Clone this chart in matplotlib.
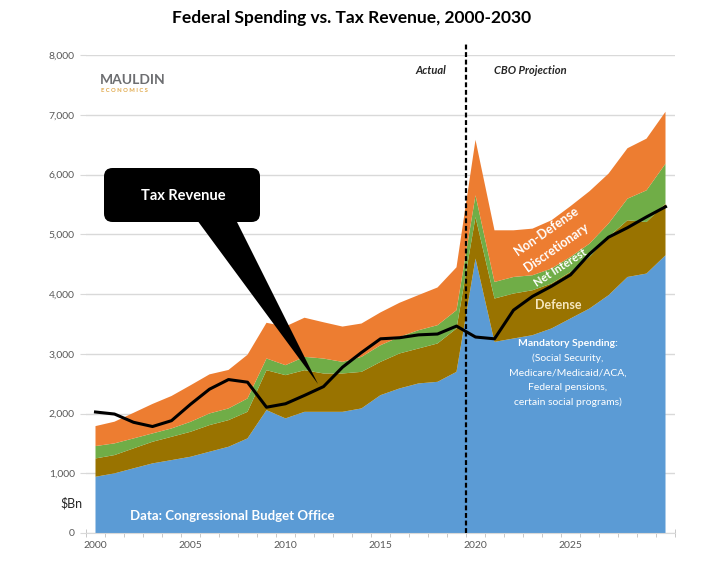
import matplotlib.pyplot as plt
from matplotlib.patches import FancyBboxPatch, Polygon

plt.rcParams['font.family'] = ['Lato', 'DejaVu Sans']

# data, $bn
years = list(range(2000, 2031))
mandatory = [941, 998, 1082, 1165, 1220, 1276, 1360, 1443, 1583, 2057,
             1918, 2028, 2028, 2028, 2085, 2307, 2419, 2503, 2530, 2697,
             4593, 3199, 3255, 3311, 3423, 3590, 3757, 3979, 4285, 4342, 4648]
defense = [307, 306, 334, 362, 390, 418, 446, 446, 445, 668,
           724, 697, 642, 642, 612, 557, 586, 585, 642, 726,
           695, 725, 753, 752, 752, 779, 863, 976, 949, 863, 864]
net_interest = [207, 196, 167, 140, 140, 167, 195, 196, 224, 196,
                167, 223, 250, 194, 251, 279, 277, 306, 306, 306,
                364, 278, 277, 251, 251, 251, 223, 223, 362, 530, 669]
non_defense = [334, 363, 428, 493, 543, 611, 654, 644, 731, 597,
               648, 655, 607, 591, 558, 549, 571, 588, 631, 718,
               928, 864, 781, 780, 808, 850, 877, 836, 844, 865, 869]
tax_revenue = [2025, 1991, 1853, 1782, 1880, 2154, 2407, 2568, 2524, 2105,
               2163, 2303, 2450, 2775, 3021, 3250, 3268, 3316, 3330, 3463,
               3280, 3250, 3730, 3960, 4130, 4320, 4670, 4950, 5110, 5290, 5460]
split_year = 2019.5

W, H = 705, 578
fig = plt.figure(figsize=(W / 100, H / 100), dpi=100)
ax = fig.add_axes([86 / W, 1 - 533 / H, (675 - 86) / W, (533 - 55) / H])


def fx(x, y):
    # pixel position -> figure fraction
    return x / W, 1 - y / H


def dx(x, y):
    # pixel position -> data coords
    return 1999.5 + (x - 86) / 19.0, (533 - y) / 478.0 * 8000


ax.stackplot(years, mandatory, defense, net_interest, non_defense,
             colors=['#5B9BD5', '#997300', '#70AD47', '#ED7D31'], lw=0, zorder=2)
ax.plot(years, tax_revenue, color='black', lw=2.2, zorder=3)
ax.plot([split_year, split_year], [0, 8200], color='black', lw=1.6,
        ls=(0, (2.2, 1.2)), zorder=4, clip_on=False)

ax.set_xlim(1999.5, 2030.5)
ax.set_ylim(0, 8000)
ax.set_xticks(range(2000, 2030, 5))
ax.set_xticks([y + 0.5 for y in range(1999, 2031)], minor=True)
ax.set_yticks(range(0, 9000, 1000))
ax.set_yticklabels([f'{v:,}' for v in range(0, 9000, 1000)])
ax.tick_params(axis='x', which='major', length=0, pad=6, labelsize=7.5, labelcolor='#595959')
ax.tick_params(axis='x', which='minor', length=6, direction='inout', color='#BFBFBF')
ax.tick_params(axis='y', length=4, color='#D9D9D9', pad=4, labelsize=7.5, labelcolor='#595959')
ax.yaxis.grid(True, color='#D9D9D9', lw=1)
ax.set_axisbelow(True)
for s in ['top', 'right', 'left']:
    ax.spines[s].set_visible(False)
ax.spines['bottom'].set_color('#D9D9D9')

# title and logo
fig.text(*fx(352, 18), 'Federal Spending vs. Tax Revenue, 2000-2030',
         ha='center', va='center', fontsize=12.5, fontweight='bold')
fig.text(*fx(100, 80), 'MAULDIN', ha='left', va='center', fontsize=10,
         color='#6D6E71', fontweight='bold')
fig.text(*fx(101, 91), 'E C O N O M I C S', ha='left', va='center', fontsize=4.2,
         color='#E0A84A', fontweight='bold')
fig.text(*fx(431, 71), 'Actual', ha='center', va='center', fontsize=8,
         style='italic', fontweight='bold', color='#262626')
fig.text(*fx(530, 71), 'CBO Projection', ha='center', va='center', fontsize=8,
         style='italic', fontweight='bold', color='#262626')
fig.text(*fx(71, 503), '$Bn', ha='center', va='center', fontsize=9, color='#262626')

# tax revenue callout
x0, y0 = dx(104, 222)
x1, y1 = dx(260, 168)
box = FancyBboxPatch((x0, y0), x1 - x0, y1 - y0,
                     boxstyle='round,pad=0,rounding_size=0.45',
                     mutation_aspect=8000 / 478 * 19, fc='black', ec='none', zorder=6)
ax.add_patch(box)
wedge = Polygon([dx(197, 220), dx(236, 220), dx(318, 384)], closed=True,
                fc='black', ec='none', zorder=6)
ax.add_patch(wedge)
ax.text(*dx(183, 196), 'Tax Revenue', ha='center', va='center', color='white',
        fontsize=10.5, fontweight='bold', zorder=7)

# series labels
ax.text(*dx(546, 231), 'Non-Defense', ha='center', va='center', rotation=35,
        color='white', fontsize=9, fontweight='bold', zorder=5)
ax.text(*dx(556, 247), 'Discretionary', ha='center', va='center', rotation=35,
        color='white', fontsize=9, fontweight='bold', zorder=5)
ax.text(*dx(560, 268), 'Net Interest', ha='center', va='center', rotation=33,
        color='white', fontsize=8, fontweight='bold', zorder=5)
ax.text(*dx(558, 305), 'Defense', ha='center', va='center',
        color='#F5E6BE', fontsize=9, fontweight='bold', zorder=5)
ax.text(*dx(568, 343), 'Mandatory Spending:', ha='center', va='center',
        color='white', fontsize=7.5, fontweight='bold', zorder=5)
mand_lines = ['(Social Security,', 'Medicare/Medicaid/ACA,',
              'Federal pensions,', 'certain social programs)']
for i, line in enumerate(mand_lines):
    ax.text(*dx(568, 358 + i * 14.7), line, ha='center', va='center',
            color='white', fontsize=7.5, zorder=5)
ax.text(*dx(232, 516), 'Data: Congressional Budget Office', ha='center', va='center',
        color='white', fontsize=9.5, fontweight='bold', zorder=5)

fig.savefig('out.png', dpi=100)
